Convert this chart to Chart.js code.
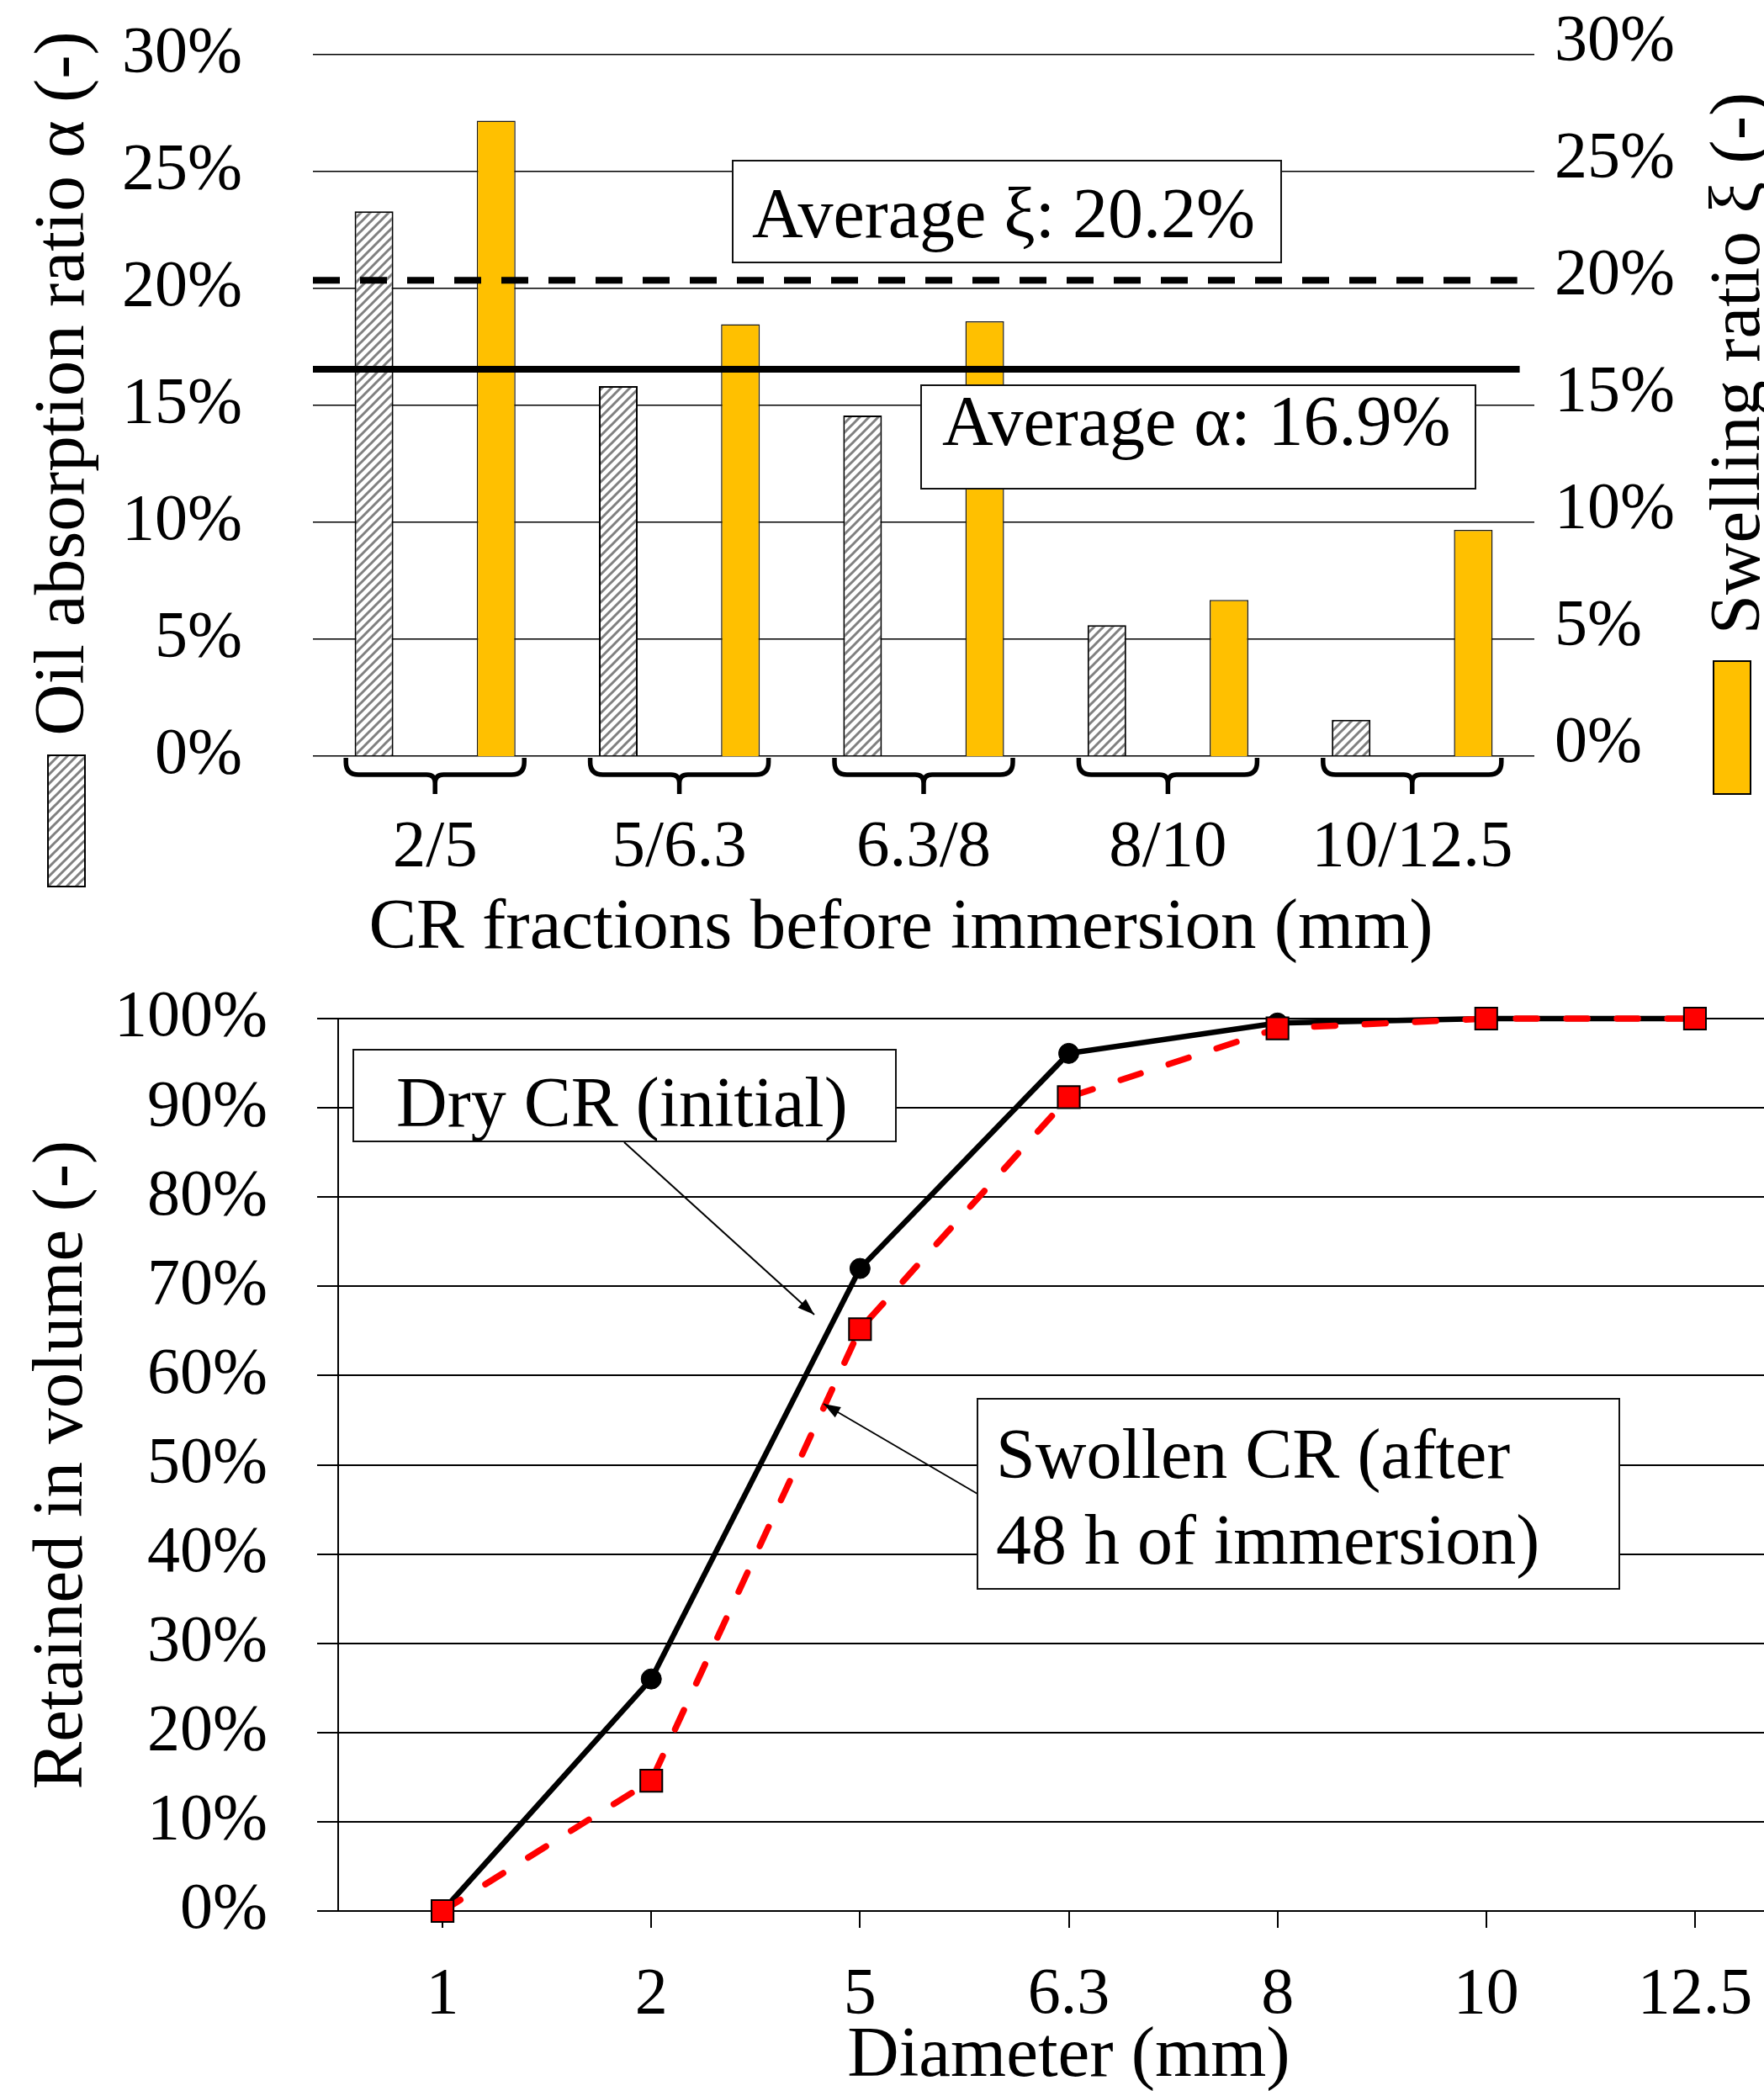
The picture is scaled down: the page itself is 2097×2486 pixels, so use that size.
<!DOCTYPE html>
<html>
<head>
<meta charset="utf-8">
<script src="https://cdn.jsdelivr.net/npm/chart.js@4.4.0/dist/chart.umd.min.js"></script>
<style>
  html, body { margin: 0; padding: 0; background: #fff; overflow: hidden; width: 2097px; height: 2486px; }
  #topChart { position: absolute; left: 0; top: 0; }
  #bottomChart { position: absolute; left: 0; top: 1150px; }
</style>
</head>
<body>
<canvas id="topChart" width="2097" height="1160"></canvas>
<canvas id="bottomChart" width="2139" height="1400"></canvas>
<script>
// Top chart: absorption / swelling per fraction
const fractions = ["2/5", "5/6.3", "6.3/8", "8/10", "10/12.5"];
const oilAbsorption = [23.3, 15.83, 14.57, 5.6, 1.56];
const swellingRatio = [27.18, 18.47, 18.6, 6.68, 9.68];
const averageAlpha = 16.55;
const averageXi = 20.35;

// Bottom chart: grading curves
const diameters = ["1", "2", "5", "6.3", "8", "10", "12.5"];
const dryRetained = [0, 26.0, 72.0, 96.1, 99.5, 100, 100];
const swollenRetained = [0, 14.6, 65.2, 91.2, 98.9, 100, 100];

const FONT = "'Liberation Serif', 'Times New Roman', serif";
Chart.defaults.font.family = FONT;
Chart.defaults.color = "#000";
Chart.defaults.animation = false;

const pct = v => v + "%";

function makeHatch(ctx) {
    const s = 11;
    const c = document.createElement("canvas");
    c.width = s; c.height = s;
    const g = c.getContext("2d");
    g.fillStyle = "#fff";
    g.fillRect(0, 0, s, s);
    g.strokeStyle = "#808080";
    g.lineWidth = 3;
    g.beginPath();
    g.moveTo(-2, s + 2); g.lineTo(s + 2, -2);
    g.moveTo(-3, 3); g.lineTo(3, -3);
    g.moveTo(s - 3, s + 3); g.lineTo(s + 3, s - 3);
    g.stroke();
    return ctx.createPattern(c, "repeat");
}

function drawTextBox(ctx, b) {
    ctx.save();
    ctx.fillStyle = "#fff";
    ctx.fillRect(b.x, b.y, b.w, b.h);
    ctx.strokeStyle = "#111";
    ctx.lineWidth = 2;
    ctx.strokeRect(b.x, b.y, b.w, b.h);
    ctx.fillStyle = "#000";
    ctx.font = "84px " + FONT;
    ctx.textAlign = "left";
    ctx.textBaseline = "alphabetic";
    b.lines.forEach((t, i) => ctx.fillText(t, b.tx, b.baselines[i]));
    ctx.restore();
}

function drawArrow(ctx, x1, y1, x2, y2) {
    ctx.save();
    ctx.strokeStyle = "#000";
    ctx.fillStyle = "#000";
    ctx.lineWidth = 2;
    ctx.beginPath();
    ctx.moveTo(x1, y1);
    ctx.lineTo(x2, y2);
    ctx.stroke();
    const a = Math.atan2(y2 - y1, x2 - x1), L = 20, W = 7;
    ctx.beginPath();
    ctx.moveTo(x2, y2);
    ctx.lineTo(x2 - L * Math.cos(a) + W * Math.sin(a), y2 - L * Math.sin(a) - W * Math.cos(a));
    ctx.lineTo(x2 - L * Math.cos(a) - W * Math.sin(a), y2 - L * Math.sin(a) + W * Math.cos(a));
    ctx.closePath();
    ctx.fill();
    ctx.restore();
}

function drawRotatedText(ctx, text, x, y) {
    ctx.save();
    ctx.translate(x, y);
    ctx.rotate(-Math.PI / 2);
    ctx.font = "85px " + FONT;
    ctx.fillStyle = "#000";
    ctx.textAlign = "center";
    ctx.textBaseline = "alphabetic";
    ctx.fillText(text, 0, 0);
    ctx.restore();
}

// keep tick label overflow out of the layout so the plot area sits where the padding says
const noLabelPad = s => { s.paddingTop = 0; s.paddingBottom = 0; s.paddingLeft = 0; s.paddingRight = 0; };

const topCtx = document.getElementById("topChart").getContext("2d");
const hatch = makeHatch(topCtx);

// average lines, braces, annotation boxes, titles with their legend keys
const topDecor = {
    id: "topDecor",
    afterDatasetsDraw(chart) {
        const ctx = chart.ctx;
        const xs = chart.scales.x;
        const left = xs.getPixelForValue(-0.5);

        ctx.save();
        ctx.strokeStyle = "#000";
        ctx.lineWidth = 8;
        ctx.lineCap = "butt";
        const ya = chart.scales.y.getPixelForValue(averageAlpha);
        ctx.beginPath();
        ctx.moveTo(left, ya);
        ctx.lineTo(xs.getPixelForValue(4.44), ya);
        ctx.stroke();
        const yx = chart.scales.y1.getPixelForValue(averageXi);
        ctx.setLineDash([32, 24]);
        ctx.beginPath();
        ctx.moveTo(left, yx);
        ctx.lineTo(xs.getPixelForValue(4.43), yx);
        ctx.stroke();
        ctx.restore();

        drawTextBox(ctx, { x: 871, y: 191, w: 652, h: 121, tx: 894, baselines: [282], lines: ["Average ξ: 20.2%"] });
        drawTextBox(ctx, { x: 1095, y: 458, w: 659, h: 123, tx: 1120, baselines: [529], lines: ["Average α: 16.9%"] });
    },
    afterDraw(chart) {
        const ctx = chart.ctx;
        const xs = chart.scales.x;
        const y0 = chart.scales.y.getPixelForValue(0) + 2;
        const ymid = y0 + 20, tip = y0 + 43, w = 106, r1 = 15, r2 = 10;
        ctx.save();
        ctx.strokeStyle = "#000";
        ctx.lineWidth = 5.5;
        ctx.lineJoin = "round";
        fractions.forEach((f, i) => {
            const cx = xs.getPixelForValue(i);
            ctx.beginPath();
            ctx.moveTo(cx - w, y0);
            ctx.lineTo(cx - w, ymid - r1);
            ctx.quadraticCurveTo(cx - w, ymid, cx - w + r1, ymid);
            ctx.lineTo(cx - r2, ymid);
            ctx.quadraticCurveTo(cx, ymid, cx, ymid + r2);
            ctx.lineTo(cx, tip);
            ctx.moveTo(cx + w, y0);
            ctx.lineTo(cx + w, ymid - r1);
            ctx.quadraticCurveTo(cx + w, ymid, cx + w - r1, ymid);
            ctx.lineTo(cx + r2, ymid);
            ctx.quadraticCurveTo(cx, ymid, cx, ymid + r2);
            ctx.stroke();
        });
        ctx.restore();

        ctx.save();
        ctx.font = "85px " + FONT;
        ctx.fillStyle = "#000";
        ctx.textAlign = "center";
        ctx.textBaseline = "middle";
        ctx.fillText("CR fractions before immersion (mm)", 1071, 1105);
        ctx.restore();

        drawRotatedText(ctx, "Oil absorption ratio α (-)", 99, 456);
        drawRotatedText(ctx, "Swelling ratio ξ (-)", 2091, 432);

        ctx.save();
        ctx.lineWidth = 2;
        ctx.strokeStyle = "#000";
        ctx.fillStyle = hatch;
        ctx.fillRect(57, 898, 44, 156);
        ctx.strokeRect(57, 898, 44, 156);
        ctx.fillStyle = "#FFC000";
        ctx.fillRect(2037, 786, 44, 158);
        ctx.strokeRect(2037, 786, 44, 158);
        ctx.restore();
    }
};

new Chart(topCtx, {
    type: "bar",
    data: {
        labels: fractions,
        datasets: [
            {
                label: "Oil absorption ratio α",
                data: oilAbsorption,
                yAxisID: "y",
                backgroundColor: hatch,
                borderColor: "#000",
                borderWidth: 2,
                barPercentage: 0.317,
                categoryPercentage: 1.0
            },
            {
                label: "Swelling ratio ξ",
                data: swellingRatio,
                yAxisID: "y1",
                backgroundColor: "#FFC000",
                borderColor: "#1a1a1a",
                borderWidth: 1.5,
                barPercentage: 0.317,
                categoryPercentage: 1.0
            }
        ]
    },
    options: {
        responsive: false,
        events: [],
        layout: { autoPadding: false, padding: { top: 65, left: 0, right: 0, bottom: 0 } },
        plugins: { legend: { display: false }, tooltip: { enabled: false } },
        scales: {
            x: {
                type: "category",
                offset: true,
                grid: { display: false, drawTicks: false },
                border: { display: false },
                ticks: { color: "#000", font: { size: 79 }, padding: 62 },
                afterFit: s => { s.height = 261; noLabelPad(s); }
            },
            y: {
                position: "left",
                min: 0, max: 30,
                ticks: { stepSize: 5, callback: pct, color: "#000", font: { size: 78 }, padding: 84 },
                grid: { color: "#000", lineWidth: 1.5, drawTicks: false },
                border: { display: false },
                afterFit: s => { s.width = 372; noLabelPad(s); }
            },
            y1: {
                position: "right",
                min: 0, max: 30,
                ticks: { stepSize: 5, callback: pct, color: "#000", font: { size: 78 }, padding: 24, labelOffset: -14 },
                grid: { display: false, drawTicks: false },
                border: { display: false },
                afterFit: s => { s.width = 273; noLabelPad(s); }
            }
        }
    },
    plugins: [topDecor]
});

// bottom chart
const bottomDecor = {
    id: "bottomDecor",
    afterDatasetsDraw(chart) {
        const ctx = chart.ctx;
        drawArrow(ctx, 742, 208, 968, 413);
        drawArrow(ctx, 1162, 626, 979, 519);
        drawTextBox(ctx, { x: 420, y: 98, w: 645, h: 109, tx: 471, baselines: [189], lines: ["Dry CR (initial)"] });
        drawTextBox(ctx, { x: 1162, y: 513, w: 763, h: 226, tx: 1184, baselines: [607, 709], lines: ["Swollen CR (after", "48 h of immersion)"] });
    }
};

new Chart(document.getElementById("bottomChart").getContext("2d"), {
    type: "line",
    data: {
        labels: diameters,
        datasets: [
            {
                label: "Dry CR (initial)",
                data: dryRetained,
                borderColor: "#000",
                backgroundColor: "#000",
                borderWidth: 6.5,
                pointStyle: "circle",
                pointRadius: 12,
                pointBackgroundColor: "#000",
                pointBorderColor: "#000",
                pointBorderWidth: 1,
                tension: 0,
                fill: false,
                clip: false,
                order: 2
            },
            {
                label: "Swollen CR (after 48 h of immersion)",
                data: swollenRetained,
                borderColor: "#ff0000",
                backgroundColor: "#ff0000",
                borderWidth: 7.5,
                borderDash: [25, 35],
                borderCapStyle: "round",
                pointStyle: "rect",
                pointRadius: 18.5,
                pointBackgroundColor: "#ff0000",
                pointBorderColor: "#000",
                pointBorderWidth: 2,
                tension: 0,
                fill: false,
                clip: false,
                order: 1
            }
        ]
    },
    options: {
        responsive: false,
        events: [],
        layout: { autoPadding: false, padding: { top: 61, left: 0, right: 0, bottom: 0 } },
        plugins: { legend: { display: false }, tooltip: { enabled: false } },
        scales: {
            x: {
                type: "category",
                offset: true,
                grid: { display: true, drawOnChartArea: false, drawTicks: true, tickLength: 20, color: "#000", lineWidth: 2, offset: false },
                border: { display: true, color: "#000", width: 2 },
                ticks: { color: "#000", font: { size: 78 }, padding: 34 },
                title: {
                    display: true,
                    text: "Diameter (mm)",
                    color: "#000",
                    font: { size: 85 },
                    padding: { top: 0, bottom: 53 }
                },
                afterFit: s => { s.height = 278; noLabelPad(s); }
            },
            y: {
                min: 0, max: 100,
                ticks: { stepSize: 10, callback: pct, color: "#000", font: { size: 78 }, padding: 59 },
                grid: { color: "#000", lineWidth: 2, tickLength: 25 },
                border: { display: true, color: "#000", width: 2 },
                title: {
                    display: true,
                    text: "Retained in volume (-)",
                    color: "#000",
                    font: { size: 85 },
                    padding: { top: 24, bottom: 0 }
                },
                afterFit: s => { s.width = 402; noLabelPad(s); }
            }
        }
    },
    plugins: [bottomDecor]
});
</script>
</body>
</html>
